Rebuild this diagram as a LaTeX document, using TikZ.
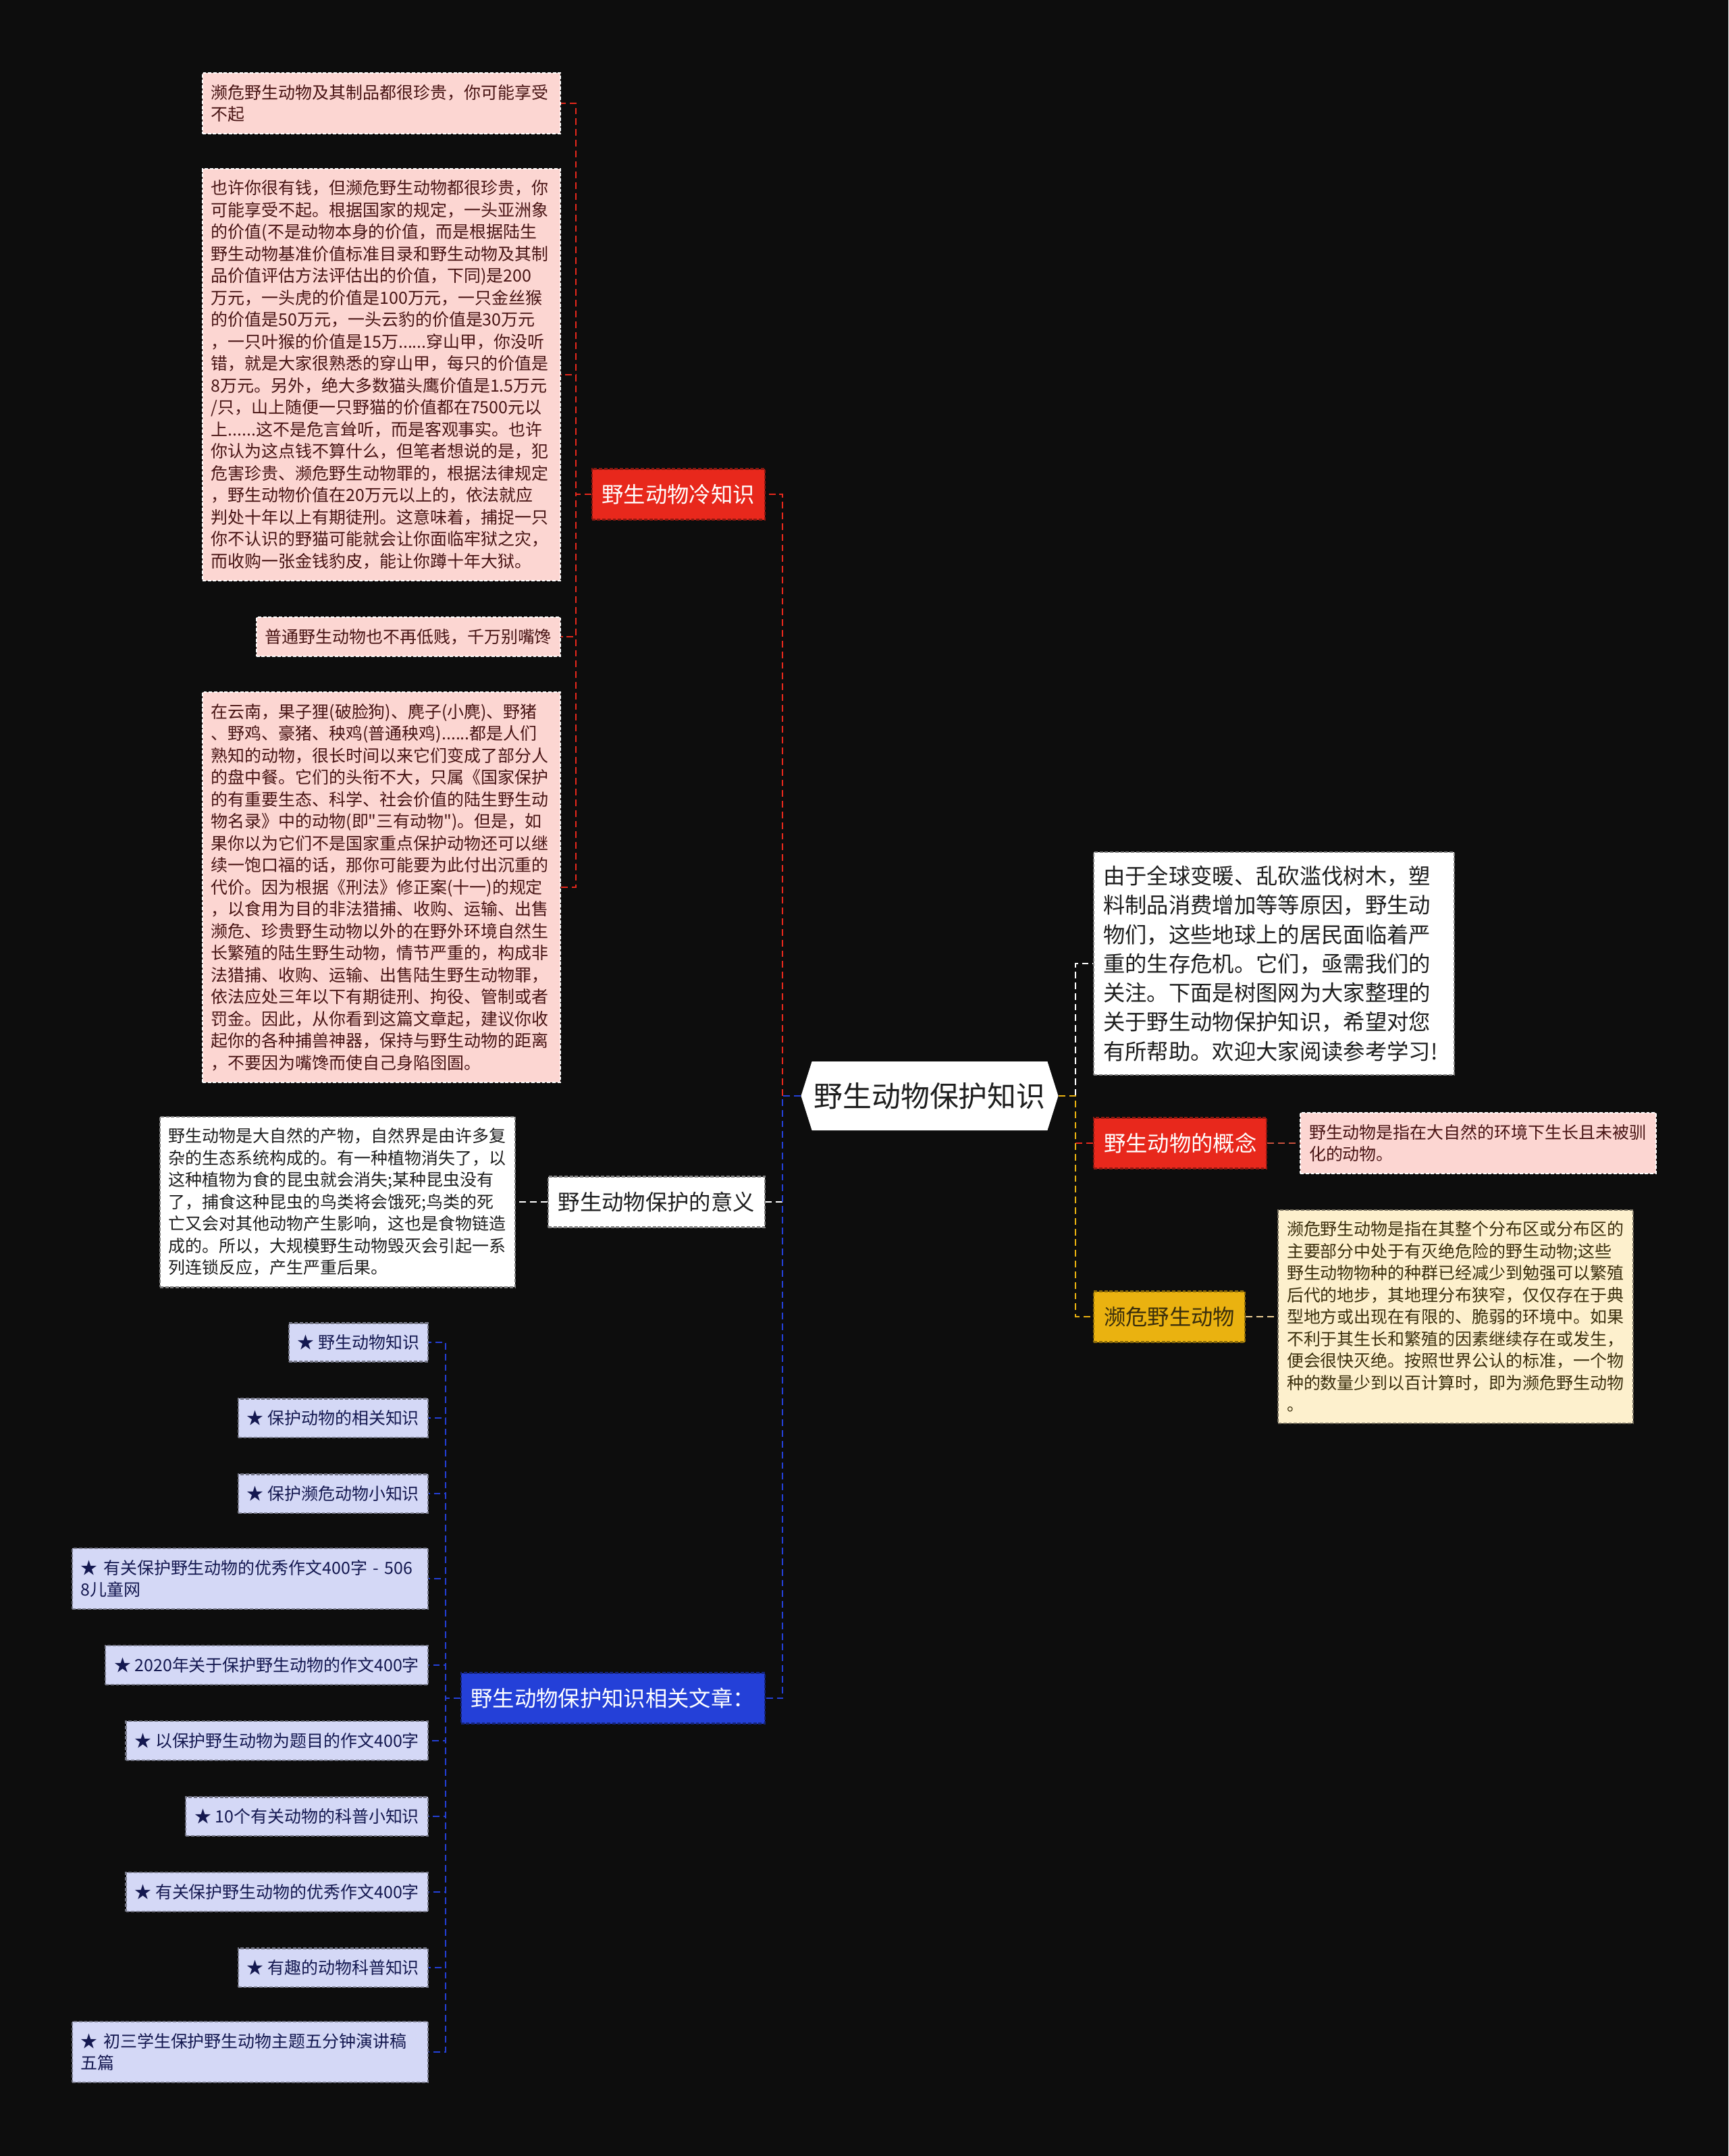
\documentclass[tikz,border=0pt]{standalone}
\usepackage{fontspec}
\newfontfamily\cjk{Noto Sans CJK SC}
\usetikzlibrary{shapes.symbols}
\definecolor{bgdark}{RGB}{13,13,13}
\definecolor{redc}{RGB}{232,40,28}
\definecolor{pinkc}{RGB}{252,214,210}
\definecolor{pinktext}{RGB}{72,20,20}
\definecolor{yellowc}{RGB}{234,178,16}
\definecolor{creamc}{RGB}{253,240,205}
\definecolor{creamtext}{RGB}{58,46,12}
\definecolor{bluec}{RGB}{36,64,216}
\definecolor{lavc}{RGB}{212,216,246}
\definecolor{lavtext}{RGB}{20,24,80}
\definecolor{darktext}{RGB}{30,30,30}
\definecolor{conceptline}{RGB}{200,80,60}
\definecolor{endgline}{RGB}{240,210,150}
\newcommand{\smallcjk}{\cjk\fontsize{7.1}{9.25}\selectfont}
\newcommand{\midcjk}{\cjk\fontsize{9.2}{12.3}\selectfont}

\begin{document}
\begin{tikzpicture}[x=1cm, y=-1cm,
    every node/.style={align=left, font=\smallcjk},
    box/.style={line width=0.6pt, dash pattern=on 1.4pt off 0.8pt},
    leaf/.style={box, inner xsep=0.13cm, inner ysep=0.17cm, font=\smallcjk},
    coldleaf/.style={leaf, fill=pinkc, draw=white, text=pinktext, text width=5.04cm},
    artleaf/.style={leaf, fill=lavc, draw=lavc!55!black, text=lavtext},
    branch/.style={box, inner xsep=0.15cm, minimum height=0.75cm, font=\midcjk},
    root/.style={shape=signal, signal to=west and east, signal pointer angle=145, fill=white,
      minimum width=3.81cm, minimum height=1.02cm, inner sep=0pt, text=darktext,
      font=\cjk\fontsize{12.2}{14}\selectfont},
    link/.style={line width=0.7pt, dash pattern=on 2.8pt off 1.7pt}
  ]
  \useasboundingbox (0,0) rectangle (25.6,31.93);
  \fill[bgdark] (0,0) rectangle (25.6,31.93);

  \node[root] (root) at (13.77,16.23) {野生动物保护知识};

  \node[box, anchor=west, fill=white, draw=gray, text=darktext, text width=5.06cm,
    inner xsep=0.14cm, inner ysep=0.2cm, font=\midcjk] (intro) at (16.19,14.27)
    {由于全球变暖、乱砍滥伐树木，塑\\料制品消费增加等等原因，野生动\\物们，这些地球上的居民面临着严\\重的生存危机。它们，亟需我们的\\关注。下面是树图网为大家整理的\\关于野生动物保护知识，希望对您\\有所帮助。欢迎大家阅读参考学习!};
  \node[branch, anchor=west, fill=redc, draw=redc!60!black, text=white] (concept) at (16.19,16.93) {野生动物的概念};
  \node[leaf, anchor=west, fill=pinkc, draw=white, text=pinktext, text width=5.01cm] (conceptleaf) at (19.25,16.93)
    {野生动物是指在大自然的环境下生长且未被驯\\化的动物。};
  \node[branch, anchor=west, fill=yellowc, draw=yellowc!60!black, text=creamtext] (endg) at (16.19,19.50) {濒危野生动物};
  \node[leaf, anchor=west, fill=creamc, draw=creamc!45!black, text=creamtext, text width=5.0cm] (endgleaf) at (18.92,19.50)
    {濒危野生动物是指在其整个分布区或分布区的\\主要部分中处于有灭绝危险的野生动物;这些\\野生动物物种的种群已经减少到勉强可以繁殖\\后代的地步，其地理分布狭窄，仅仅存在于典\\型地方或出现在有限的、脆弱的环境中。如果\\不利于其生长和繁殖的因素继续存在或发生，\\便会很快灭绝。按照世界公认的标准，一个物\\种的数量少到以百计算时，即为濒危野生动物\\。};

  \node[branch, anchor=east, fill=redc, draw=redc!60!black, text=white] (cold) at (11.34,7.32) {野生动物冷知识};
  \node[coldleaf, anchor=east] (cold1) at (8.31,1.53)
    {濒危野生动物及其制品都很珍贵，你可能享受\\不起};
  \node[coldleaf, anchor=east] (cold2) at (8.31,5.55)
    {也许你很有钱，但濒危野生动物都很珍贵，你\\可能享受不起。根据国家的规定，一头亚洲象\\的价值(不是动物本身的价值，而是根据陆生\\野生动物基准价值标准目录和野生动物及其制\\品价值评估方法评估出的价值，下同)是200\\万元，一头虎的价值是100万元，一只金丝猴\\的价值是50万元，一头云豹的价值是30万元\\，一只叶猴的价值是15万......穿山甲，你没听\\错，就是大家很熟悉的穿山甲，每只的价值是\\8万元。另外，绝大多数猫头鹰价值是1.5万元\\/只，山上随便一只野猫的价值都在7500元以\\上......这不是危言耸听，而是客观事实。也许\\你认为这点钱不算什么，但笔者想说的是，犯\\危害珍贵、濒危野生动物罪的，根据法律规定\\，野生动物价值在20万元以上的，依法就应\\判处十年以上有期徒刑。这意味着，捕捉一只\\你不认识的野猫可能就会让你面临牢狱之灾，\\而收购一张金钱豹皮，能让你蹲十年大狱。};
  \node[leaf, anchor=east, fill=pinkc, draw=white, text=pinktext] (cold3) at (8.31,9.43)
    {普通野生动物也不再低贱，千万别嘴馋};
  \node[coldleaf, anchor=east] (cold4) at (8.31,13.14)
    {在云南，果子狸(破脸狗)、麂子(小麂)、野猪\\、野鸡、豪猪、秧鸡(普通秧鸡)......都是人们\\熟知的动物，很长时间以来它们变成了部分人\\的盘中餐。它们的头衔不大，只属《国家保护\\的有重要生态、科学、社会价值的陆生野生动\\物名录》中的动物(即"三有动物")。但是，如\\果你以为它们不是国家重点保护动物还可以继\\续一饱口福的话，那你可能要为此付出沉重的\\代价。因为根据《刑法》修正案(十一)的规定\\，以食用为目的非法猎捕、收购、运输、出售\\濒危、珍贵野生动物以外的在野外环境自然生\\长繁殖的陆生野生动物，情节严重的，构成非\\法猎捕、收购、运输、出售陆生野生动物罪，\\依法应处三年以下有期徒刑、拘役、管制或者\\罚金。因此，从你看到这篇文章起，建议你收\\起你的各种捕兽神器，保持与野生动物的距离\\，不要因为嘴馋而使自己身陷囹圄。};

  \node[branch, anchor=east, fill=white, draw=gray, text=darktext] (mean) at (11.34,17.80) {野生动物保护的意义};
  \node[leaf, anchor=east, fill=white, draw=gray, text=darktext, text width=5.0cm] (meanleaf) at (7.64,17.80)
    {野生动物是大自然的产物，自然界是由许多复\\杂的生态系统构成的。有一种植物消失了，以\\这种植物为食的昆虫就会消失;某种昆虫没有\\了，捕食这种昆虫的鸟类将会饿死;鸟类的死\\亡又会对其他动物产生影响，这也是食物链造\\成的。所以，大规模野生动物毁灭会引起一系\\列连锁反应，产生严重后果。};

  \node[branch, anchor=east, fill=bluec, draw=bluec!55!black, text=white] (rel) at (11.34,25.15) {野生动物保护知识相关文章：};
  \node[artleaf, anchor=east] (art1) at (6.35,19.88) {★~野生动物知识};
  \node[artleaf, anchor=east] (art2) at (6.35,21.00) {★~保护动物的相关知识};
  \node[artleaf, anchor=east] (art3) at (6.35,22.12) {★~保护濒危动物小知识};
  \node[artleaf, anchor=east, text width=5.01cm] (art4) at (6.35,23.38) {★~有关保护野生动物的优秀作文400字~-~506\\8儿童网};
  \node[artleaf, anchor=east] (art5) at (6.35,24.66) {★~2020年关于保护野生动物的作文400字};
  \node[artleaf, anchor=east] (art6) at (6.35,25.78) {★~以保护野生动物为题目的作文400字};
  \node[artleaf, anchor=east] (art7) at (6.35,26.90) {★~10个有关动物的科普小知识};
  \node[artleaf, anchor=east] (art8) at (6.35,28.02) {★~有关保护野生动物的优秀作文400字};
  \node[artleaf, anchor=east] (art9) at (6.35,29.14) {★~有趣的动物科普知识};
  \node[artleaf, anchor=east, text width=5.01cm] (art10) at (6.35,30.39) {★~初三学生保护野生动物主题五分钟演讲稿\\五篇};

  \coordinate (rjoint) at (15.93,16.23);
  \coordinate (conceptjoint) at (15.93,16.93);
  \coordinate (ljoint) at (11.59,16.23);
  \coordinate (meanjoint) at (11.59,17.80);
  \coordinate (coldjoint) at (8.53,7.32);
  \coordinate (artjoint) at (6.60,25.15);

  \draw[link, white] (rjoint) |- (intro.west);
  \draw[link, redc] (conceptjoint) -- (concept.west);
  \draw[link, yellowc] (root.east) -- (rjoint) |- (endg.west);
  \draw[link, conceptline] (concept.east) -- (conceptleaf.west);
  \draw[link, endgline] (endg.east) -- (endgleaf.west);

  \draw[link, white] (meanjoint) -- (mean.east);
  \draw[link, white] (mean.west) -- (meanleaf.east);
  \draw[link, redc] (ljoint) |- (cold.east);
  \draw[link, bluec] (root.west) -- (ljoint) |- (rel.east);
  \foreach \n in {cold1,cold2,cold3,cold4}
    \draw[link, redc] (cold.west) -- (coldjoint) |- (\n.east);
  \foreach \n in {1,...,10}
    \draw[link, bluec] (rel.west) -- (artjoint) |- (art\n.east);
\end{tikzpicture}
\end{document}
